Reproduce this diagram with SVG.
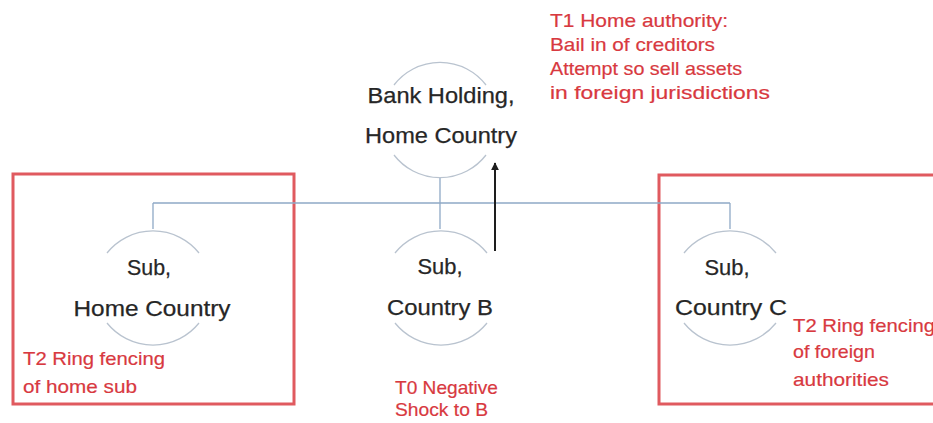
<svg xmlns="http://www.w3.org/2000/svg" width="933" height="423" viewBox="0 0 933 423">
<style>
.bg{fill:#ffffff}
.box{fill:none;stroke:#e05a5f;stroke-width:3}
.arc{fill:none;stroke:#b9c3cf;stroke-width:1.3}
.conn{fill:none;stroke:#8fa9c6;stroke-width:1.3}
.arrow{fill:none;stroke:#1e1e1e;stroke-width:2}
.lbl{font-family:"Liberation Sans",Arial,sans-serif;font-size:22px;fill:#262626;stroke:#262626;stroke-width:0.25;text-anchor:middle}
.note{font-family:"Liberation Sans",Arial,sans-serif;font-size:19px;fill:#d8393f;stroke:#d8393f;stroke-width:0.2}
</style>
<defs>
<marker id="ah" viewBox="0 0 10 10" refX="9" refY="5" markerWidth="4" markerHeight="4" orient="auto-start-reverse" markerUnits="strokeWidth">
<path d="M0,0 L10,5 L0,10 z" fill="#1e1e1e"/>
</marker>
</defs>
<rect class="bg" x="0" y="0" width="933" height="423"/>

<g id="ring-home">
<rect class="box" x="13" y="174" width="281" height="230"/>
<text class="note" x="23" y="365" textLength="142" lengthAdjust="spacingAndGlyphs">T2 Ring fencing</text>
<text class="note" x="23" y="393" textLength="114" lengthAdjust="spacingAndGlyphs">of home sub</text>
</g>

<g id="ring-foreign">
<rect class="box" x="659" y="175" width="290" height="229"/>
<text class="note" x="793" y="332" textLength="142" lengthAdjust="spacingAndGlyphs">T2 Ring fencing</text>
<text class="note" x="793" y="358" textLength="82" lengthAdjust="spacingAndGlyphs">of foreign</text>
<text class="note" x="793" y="386" textLength="96" lengthAdjust="spacingAndGlyphs">authorities</text>
</g>

<g id="connectors">
<path class="conn" d="M153,203 H730 M153,203 V229 M440,178 V229 M730,203 V229"/>
<path class="arrow" d="M495,251 V163" marker-end="url(#ah)"/>
</g>

<g id="bank-holding">
<path class="arc" d="M394,85 A58,58 0 0 1 486,85 M394,155 A58,58 0 0 0 486,155"/>
<text class="lbl" x="441" y="103" textLength="147" lengthAdjust="spacingAndGlyphs">Bank Holding,</text>
<text class="lbl" x="441" y="143" textLength="152" lengthAdjust="spacingAndGlyphs">Home Country</text>
</g>

<g id="sub-home">
<path class="arc" d="M107,253 A59,59 0 0 1 199,253 M107,323 A59,59 0 0 0 199,323"/>
<text class="lbl" x="149" y="275" textLength="44" lengthAdjust="spacingAndGlyphs">Sub,</text>
<text class="lbl" x="152" y="316" textLength="157" lengthAdjust="spacingAndGlyphs">Home Country</text>
</g>

<g id="sub-b">
<path class="arc" d="M395,253 A59,59 0 0 1 487,253 M395,323 A59,59 0 0 0 487,323"/>
<text class="lbl" x="440" y="274" textLength="45" lengthAdjust="spacingAndGlyphs">Sub,</text>
<text class="lbl" x="440" y="315" textLength="106" lengthAdjust="spacingAndGlyphs">Country B</text>
</g>

<g id="sub-c">
<path class="arc" d="M684,253 A59,59 0 0 1 776,253 M684,323 A59,59 0 0 0 776,323"/>
<text class="lbl" x="727" y="275" textLength="45" lengthAdjust="spacingAndGlyphs">Sub,</text>
<text class="lbl" x="731" y="315" textLength="112" lengthAdjust="spacingAndGlyphs">Country C</text>
</g>

<g id="t1-note">
<text class="note" x="550" y="27" textLength="178" lengthAdjust="spacingAndGlyphs">T1 Home authority:</text>
<text class="note" x="550" y="51" textLength="165" lengthAdjust="spacingAndGlyphs">Bail in of creditors</text>
<text class="note" x="550" y="75" textLength="192" lengthAdjust="spacingAndGlyphs">Attempt so sell assets</text>
<text class="note" x="550" y="99" textLength="220" lengthAdjust="spacingAndGlyphs">in foreign jurisdictions</text>
</g>

<g id="t0-note">
<text class="note" x="395" y="394" textLength="103" lengthAdjust="spacingAndGlyphs">T0 Negative</text>
<text class="note" x="395" y="416" textLength="93" lengthAdjust="spacingAndGlyphs">Shock to B</text>
</g>
</svg>
